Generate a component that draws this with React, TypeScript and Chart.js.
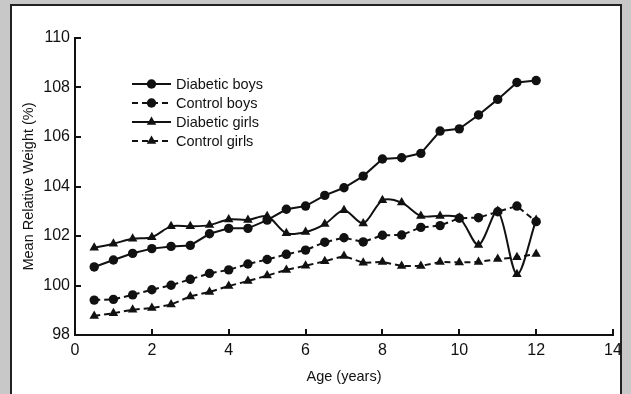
import React, { useEffect, useRef } from 'react';
import { Chart, registerables } from 'chart.js';

Chart.register(...registerables);

// ---- data ----
const ages = [0.5, 1, 1.5, 2, 2.5, 3, 3.5, 4, 4.5, 5, 5.5, 6, 6.5, 7, 7.5, 8, 8.5, 9, 9.5, 10, 10.5, 11, 11.5, 12];
const diabeticBoys = [100.75, 101.03, 101.3, 101.49, 101.58, 101.62, 102.09, 102.31, 102.31, 102.64, 103.08, 103.21, 103.64, 103.95, 104.42, 105.11, 105.16, 105.34, 106.24, 106.33, 106.89, 107.52, 108.2, 108.28];
const controlBoys = [99.41, 99.44, 99.62, 99.83, 100.01, 100.25, 100.49, 100.63, 100.87, 101.05, 101.26, 101.43, 101.75, 101.93, 101.76, 102.03, 102.04, 102.35, 102.42, 102.72, 102.74, 102.98, 103.21, 102.58];
const diabeticGirls = [101.53, 101.69, 101.89, 101.95, 102.39, 102.39, 102.44, 102.67, 102.65, 102.8, 102.11, 102.16, 102.48, 103.04, 102.51, 103.44, 103.35, 102.81, 102.81, 102.74, 101.64, 103.01, 100.45, 102.65];
const controlGirls = [98.77, 98.88, 99.02, 99.09, 99.23, 99.56, 99.74, 99.98, 100.18, 100.4, 100.63, 100.8, 100.98, 101.19, 100.92, 100.95, 100.79, 100.79, 100.95, 100.93, 100.95, 101.07, 101.14, 101.27];
const seriesLabels = ['Diabetic boys', 'Control boys', 'Diabetic girls', 'Control girls'];
const xTitle = 'Age (years)';
const yTitle = 'Mean Relative Weight (%)';
const xMin = 0, xMax = 14, xStep = 2;
const yMin = 98, yMax = 110, yStep = 2;

const FONT = '"Liberation Sans Narrow", "Liberation Sans", Arial, sans-serif';
const INK = '#111';
const TEXT_SIZE = 14.5;
const TICK_SIZE = 16;

function drawMarker(ctx: CanvasRenderingContext2D, style: string, x: number, y: number, r: number, color: string) {
  ctx.fillStyle = color;
  ctx.beginPath();
  if (style === 'triangle') {
    let rad = 0;
    ctx.moveTo(x + Math.sin(rad) * r, y - Math.cos(rad) * r);
    rad += (2 * Math.PI) / 3;
    ctx.lineTo(x + Math.sin(rad) * r, y - Math.cos(rad) * r);
    rad += (2 * Math.PI) / 3;
    ctx.lineTo(x + Math.sin(rad) * r, y - Math.cos(rad) * r);
    ctx.closePath();
  } else {
    ctx.arc(x, y, r, 0, Math.PI * 2);
  }
  ctx.fill();
}

const inwardTicks = {
  id: 'inwardTicks',
  afterDraw(chart: any) {
    const { ctx, chartArea, scales } = chart;
    const xs = scales.x, ys = scales.y;
    ctx.save();
    ctx.strokeStyle = INK;
    ctx.lineWidth = 2;
    ctx.beginPath();
    xs.ticks.forEach((t: any) => {
      const px = Math.round(xs.getPixelForValue(t.value));
      ctx.moveTo(px, chartArea.bottom);
      ctx.lineTo(px, chartArea.bottom - 6);
    });
    ys.ticks.forEach((t: any) => {
      const py = Math.round(ys.getPixelForValue(t.value));
      ctx.moveTo(chartArea.left, py);
      ctx.lineTo(chartArea.left + 6, py);
    });
    ctx.stroke();
    ctx.restore();
  },
};

const lineLegend = {
  id: 'lineLegend',
  afterDraw(chart: any, _args: any, opts: any) {
    const { ctx } = chart;
    chart.data.datasets.forEach((ds: any, i: number) => {
      const y = opts.y + i * opts.rowGap;
      const x0 = opts.x;
      ctx.save();
      ctx.strokeStyle = ds.borderColor;
      ctx.lineWidth = ds.borderWidth;
      ctx.setLineDash(ds.borderDash || []);
      ctx.beginPath();
      ctx.moveTo(x0, y);
      ctx.lineTo(x0 + opts.lineLength, y);
      ctx.stroke();
      ctx.setLineDash([]);
      drawMarker(ctx, ds.pointStyle, x0 + opts.lineLength / 2, y, ds.pointRadius, ds.pointBackgroundColor);
      ctx.fillStyle = INK;
      ctx.font = `${TEXT_SIZE}px ${FONT}`;
      ctx.textBaseline = 'middle';
      ctx.textAlign = 'left';
      ctx.fillText(ds.label, x0 + opts.lineLength + 5, y + 1);
      ctx.restore();
    });
  },
};

function makeDataset(label: string, values: number[], dashed: boolean, style: string, tension: number) {
  return {
    label,
    data: ages.map((a, i) => ({ x: a, y: values[i] })),
    borderColor: INK,
    backgroundColor: INK,
    pointBackgroundColor: INK,
    pointBorderColor: INK,
    pointBorderWidth: 0,
    borderWidth: 2,
    borderDash: dashed ? [6, 4] : [],
    pointStyle: style,
    pointRadius: style === 'triangle' ? 5.5 : 4.7,
    tension,
    fill: false,
  };
}

export default function App() {
  const ref = useRef<HTMLCanvasElement | null>(null);

  useEffect(() => {
    if (!ref.current) return;
    const tickFont = { family: FONT, size: TICK_SIZE };
    const titleFont = { family: FONT, size: TEXT_SIZE };
    const chart = new Chart(ref.current, {
      type: 'line',
      data: {
        datasets: [
          makeDataset(seriesLabels[0], diabeticBoys, false, 'circle', 0),
          makeDataset(seriesLabels[1], controlBoys, true, 'circle', 0),
          makeDataset(seriesLabels[2], diabeticGirls, false, 'triangle', 0.3),
          makeDataset(seriesLabels[3], controlGirls, true, 'triangle', 0),
        ] as any,
      },
      options: {
        animation: false,
        responsive: false,
        maintainAspectRatio: false,
        layout: { padding: { top: 38, right: 18, bottom: 0, left: 0 } },
        plugins: {
          legend: { display: false },
          tooltip: { enabled: false },
          lineLegend: { x: 132, y: 84, rowGap: 19, lineLength: 39 },
        } as any,
        scales: {
          x: {
            type: 'linear',
            min: xMin,
            max: xMax,
            ticks: { stepSize: xStep, font: tickFont, color: INK, padding: 6 },
            grid: { display: true, drawOnChartArea: false, drawTicks: false },
            border: { display: true, color: INK, width: 2 },
            title: { display: true, text: xTitle, font: titleFont, color: INK, padding: { top: 0, bottom: 8 } },
            afterFit: (s: any) => { s.height = 59; },
          },
          y: {
            type: 'linear',
            min: yMin,
            max: yMax,
            ticks: { stepSize: yStep, font: tickFont, color: INK, padding: 5 },
            grid: { display: true, drawOnChartArea: false, drawTicks: false },
            border: { display: true, color: INK, width: 2 },
            title: { display: true, text: yTitle, font: titleFont, color: INK, padding: { top: 20, bottom: 0 } },
            afterFit: (s: any) => { s.width = 75; },
          },
        },
      } as any,
      plugins: [inwardTicks, lineLegend],
    });
    return () => chart.destroy();
  }, []);

  return (
    <div style={{ position: 'fixed', left: 0, top: 0, width: 631, height: 394, background: '#c8c8c8', overflow: 'hidden' }}>
      <div style={{ position: 'absolute', left: 10, top: 4, width: 612, height: 420, background: '#fff', border: '2px solid #222', boxSizing: 'border-box' }} />
      <canvas ref={ref} width={631} height={394} style={{ position: 'absolute', left: 0, top: 0, width: 631, height: 394 }} />
    </div>
  );
}
